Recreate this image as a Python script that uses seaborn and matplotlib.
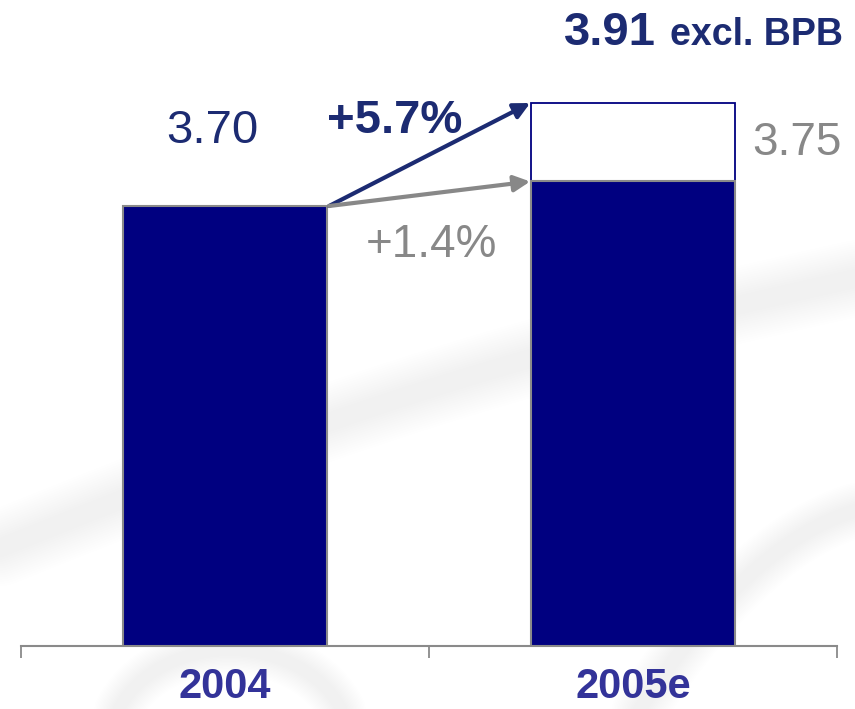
import numpy as np
import pandas as pd
import matplotlib
matplotlib.use("Agg")
import matplotlib.pyplot as plt
import seaborn as sns

# --- data -------------------------------------------------------------
years = ["2004", "2005e"]
reported = [3.70, 3.75]          # reported values
excl_bpb_year = ["2005e"]
excl_bpb = [3.91]                # 2005e excluding BPB
growth_excl = "+5.7%"
growth_reported = "+1.4%"

NAVY = "#000080"
TEXT_NAVY = "#1c2b72"
GREY = "#888888"
YEAR_BLUE = "#333399"

sns.set_theme(style="white")
plt.rcParams["font.family"] = ["Liberation Sans", "DejaVu Sans"]

W, H = 855, 709
fig = plt.figure(figsize=(W / 100, H / 100), dpi=100)
fig.patch.set_facecolor("white")

# soft background swooshes
bg = fig.add_axes([0, 0, 1, 1], zorder=0)
bg.set_xlim(0, W)
bg.set_ylim(H, 0)
bg.axis("off")


def soft_stroke(xs, ys, width, shade="#a0a0a0", layers=14, alpha=0.0045):
    for w in np.linspace(width * 0.25, width, layers):
        bg.plot(xs, ys, color=shade, lw=w, alpha=alpha,
                solid_capstyle="round")


t = np.linspace(0, 1, 60)
soft_stroke(0 + 880 * t, 548 - 275 * t - 25 * np.sin(np.pi * t), 55)
soft_stroke(880 - 250 * t, 505 + 40 * t + 180 * t ** 2, 40)
ang = np.linspace(np.pi * 0.95, np.pi * 0.05, 60)
soft_stroke(230 + 120 * np.cos(ang), 745 - 95 * np.sin(ang), 35)

# --- main axes ---------------------------------------------------------
x0, x1 = 21, 837
y_axis = 645.7
ax = fig.add_axes([x0 / W, (H - y_axis) / H, (x1 - x0) / W, y_axis / H],
                  zorder=1)
ax.patch.set_alpha(0)

ymin = 2.8036
ymax = ymin + y_axis / 490.5

df_total = pd.DataFrame({"year": excl_bpb_year, "value": excl_bpb})
df_rep = pd.DataFrame({"year": years, "value": reported})

sns.barplot(data=df_total, x="year", y="value", order=years, width=0.5,
            color="white", edgecolor=NAVY, linewidth=1.3, saturation=1,
            ax=ax)
sns.barplot(data=df_rep, x="year", y="value", order=years, width=0.5,
            color=NAVY, edgecolor="#8a8a8a", linewidth=1.5, saturation=1,
            ax=ax)

ax.set_xlim(-0.5, 1.5)
ax.set_ylim(ymin, ymax)
ax.set_xlabel("")
ax.set_ylabel("")
ax.set_yticks([])
ax.set_xticks([-0.5, 0.5, 1.5])
ax.set_xticklabels([])
ax.tick_params(axis="x", direction="out", length=8.5, width=1.3,
               color="#8a8a8a", bottom=True)
for s in ["top", "left", "right"]:
    ax.spines[s].set_visible(False)
ax.spines["bottom"].set_color("#8a8a8a")
ax.spines["bottom"].set_linewidth(1.5)

# category labels
for i, yr in enumerate(years):
    ax.text(i, 2.697, yr, ha="center", va="baseline", fontsize=30,
            fontweight="bold", color=YEAR_BLUE, clip_on=False)

# value labels
ax.text(-0.032, 3.829, f"{reported[0]:.2f}", ha="center", va="baseline",
        fontsize=34, color=TEXT_NAVY, clip_on=False)
ax.text(1.402, 3.804, f"{reported[1]:.2f}", ha="center", va="baseline",
        fontsize=33, color=GREY, clip_on=False)
ax.text(0.417, 3.8488, growth_excl, ha="center", va="baseline",
        fontsize=34, fontweight="bold", color=TEXT_NAVY, clip_on=False)
ax.text(0.507, 3.596, growth_reported, ha="center", va="baseline",
        fontsize=33, color=GREY, clip_on=False)

# headline for the excl. BPB total
ax.text(1.056, 4.028, f"{excl_bpb[0]:.2f}", ha="right", va="baseline",
        fontsize=34, fontweight="bold", color=TEXT_NAVY, clip_on=False)
ax.text(1.514, 4.028, "excl. BPB", ha="right", va="baseline",
        fontsize=27, fontweight="bold", color=TEXT_NAVY, clip_on=False)

# growth arrows
ax.annotate("", xy=(0.748, excl_bpb[0]), xytext=(0.255, reported[0]),
            arrowprops=dict(arrowstyle="-|>", color=TEXT_NAVY, lw=3,
                            mutation_scale=24, shrinkA=0, shrinkB=0),
            annotation_clip=False)
ax.annotate("", xy=(0.748, reported[1]), xytext=(0.255, reported[0]),
            arrowprops=dict(arrowstyle="-|>", color=GREY, lw=3,
                            mutation_scale=24, shrinkA=0, shrinkB=0),
            annotation_clip=False)

fig.savefig("out.png", dpi=100)
